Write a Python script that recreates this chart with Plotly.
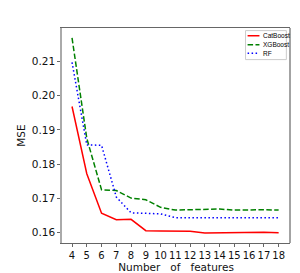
import plotly.graph_objects as go

n_features = [4, 5, 6, 7, 8, 9, 10, 11, 12, 13, 14, 15, 16, 17, 18]
catboost = [0.1968, 0.1772, 0.1657, 0.1638, 0.1639, 0.1606, 0.1605, 0.1604, 0.1604, 0.1599, 0.1600, 0.1600, 0.1600, 0.1601, 0.1600]
xgboost = [0.2168, 0.1875, 0.1725, 0.1723, 0.1701, 0.1696, 0.1674, 0.1666, 0.1667, 0.1668, 0.1669, 0.1666, 0.1667, 0.1667, 0.1666]
rf = [0.2097, 0.1856, 0.1855, 0.1704, 0.1658, 0.1656, 0.1655, 0.1644, 0.1644, 0.1644, 0.1645, 0.1643, 0.1644, 0.1645, 0.1644]
y_ticks = [0.16, 0.17, 0.18, 0.19, 0.20, 0.21]

series = [
    ("CatBoost", catboost, "#ff0000", "solid"),
    ("XGBoost", xgboost, "#008000", "5.5px,2.4px"),
    ("RF", rf, "#0000ff", "1.5px,2.5px"),
]

fig = go.Figure()
for name, vals, color, dash in series:
    fig.add_trace(go.Scatter(x=n_features, y=vals, mode="lines", name=name,
                             line=dict(color=color, width=1.5, dash=dash),
                             showlegend=False))

# custom legend (paper coordinates)
shapes = [dict(type="rect", xref="paper", yref="paper", x0=0.805, x1=0.984, y0=0.853, y1=0.988,
               line=dict(color="#cccccc", width=1), fillcolor="rgba(255,255,255,0.8)", layer="above")]
annotations = []
rows_y = [0.964, 0.922, 0.882]
for (name, vals, color, dash), yy in zip(series, rows_y):
    shapes.append(dict(type="line", xref="paper", yref="paper", x0=0.814, x1=0.866, y0=yy, y1=yy,
                       line=dict(color=color, width=1.5, dash=dash), layer="above"))
    annotations.append(dict(xref="paper", yref="paper", x=0.872, y=yy, text=name, showarrow=False,
                            xanchor="left", yanchor="middle",
                            font=dict(family="Liberation Sans, Arial", size=6.5, color="#000")))
# right frame edge
shapes.append(dict(type="line", xref="paper", yref="paper", x0=1, x1=1, y0=0, y1=1,
                   line=dict(color="#666666", width=1.2)))

fig.update_layout(
    width=300, height=273,
    margin=dict(l=47, r=18, t=20, b=31),
    plot_bgcolor="white", paper_bgcolor="white",
    font=dict(family="DejaVu Sans", size=10.5, color="#111"),
    shapes=shapes, annotations=annotations,
    xaxis=dict(range=[3.32, 18.77], tickvals=n_features, ticks="outside", ticklen=3,
               tickangle=0, tickfont=dict(size=10),
               tickcolor="#666", showline=True, linecolor="#666666", linewidth=1.2, mirror=True,
               showgrid=False, zeroline=False,
               title=dict(text="Number\u00a0\u00a0\u00a0of\u00a0\u00a0\u00a0features", standoff=1,
                          font=dict(size=10.5))),
    yaxis=dict(range=[0.1570, 0.2197], tickvals=y_ticks, tickformat=".2f", ticks="outside", ticklen=3,
               tickcolor="#666", showline=True, linecolor="#aaaaaa", linewidth=1.5, mirror=False,
               showgrid=False, zeroline=False,
               title=dict(text="MSE", standoff=4, font=dict(size=10.5))),
)

fig.write_html("out.html")
